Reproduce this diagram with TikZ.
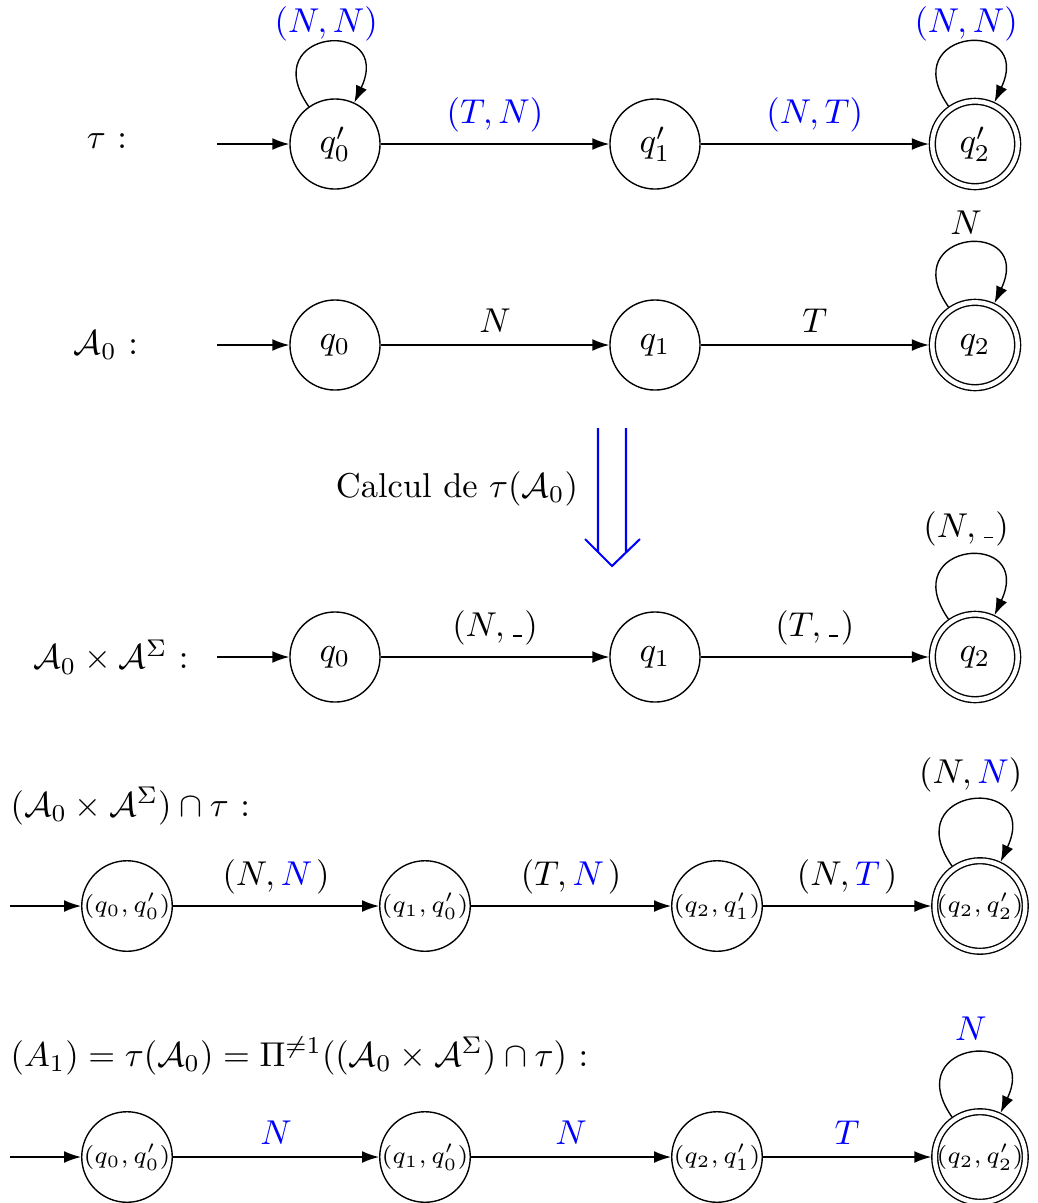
\documentclass[tikz,border=0pt]{standalone}
\usetikzlibrary{arrows.meta}
\newcommand{\blank}{\kern0.6pt\rule[-0.2pt]{2.6pt}{0.45pt}\kern0.8pt}
\begin{document}
\begin{tikzpicture}[x=0.0102cm,y=0.0102cm,
  st/.style={circle, draw, minimum size=0.918cm, inner sep=0pt},
  acc/.style={circle, draw, double, double distance=1.3pt, minimum size=0.87cm, inner sep=0pt, outer sep=1pt},
  edge/.style={-{Latex[length=4.9pt,width=3.4pt]}},
  sm/.style={font=\scriptsize},
  lp/.style={above, inner sep=#1},
  lp/.default=3.33pt]
\useasboundingbox (0,0) rectangle (1037,-1203);

% ---------- row 1 : tau
\node (l1) at (107,-141) {$\tau$ :};
\node[st] (a0) at (335,-144) {$q'_0$};
\node[st] (a1) at (655,-144) {$q'_1$};
\node[acc] (a2) at (975,-144) {$q'_2$};
\coordinate (ain) at (217,-144);
\draw[edge] (ain) -- (a0);
\draw[edge] (a0) -- node[above, text=blue] {$(T,N)$} (a1);
\draw[edge] (a1) -- node[above, text=blue] {$(N,T)$} (a2);
\draw[edge] (a0.125) .. controls +(125:95) and +(65:95) .. (a0.65) node[pos=.5, lp=0.3pt, text=blue] {$(N,N)$};
\draw[edge] (a2.125) .. controls +(125:95) and +(65:95) .. (a2.65) node[pos=.5, lp=0.3pt, text=blue] {$(N,N)$};

% ---------- row 2 : A0
\node (l2) at (106,-345) {$\mathcal{A}_0$ :};
\node[st] (b0) at (335,-345) {$q_0$};
\node[st] (b1) at (655,-345) {$q_1$};
\node[acc] (b2) at (975,-345) {$q_2$};
\coordinate (bin) at (217,-345);
\draw[edge] (bin) -- (b0);
\draw[edge] (b0) -- node[above] {$N$} (b1);
\draw[edge] (b1) -- node[above] {$T$} (b2);
\draw[edge] (b2.125) .. controls +(125:95) and +(65:95) .. (b2.65) node[pos=.5, lp=2.6pt] {$N$};

% ---------- big arrow
\node (calc) at (457,-489) {Calcul de $\tau(\mathcal{A}_0)$};
\draw[blue, line width=0.6pt] (598,-428) -- (598,-552) (626,-428) -- (626,-552)
  (585,-539) -- (612,-566) -- (640,-539);

% ---------- row 3 : A0 x A^Sigma
\node (l3) at (111,-657) {$\mathcal{A}_0\times\mathcal{A}^{\Sigma}$ :};
\node[st] (c0) at (335,-657) {$q_0$};
\node[st] (c1) at (655,-657) {$q_1$};
\node[acc] (c2) at (975,-657) {$q_2$};
\coordinate (cin) at (217,-657);
\draw[edge] (cin) -- (c0);
\draw[edge] (c0) -- node[above] {$(N,\blank)$} (c1);
\draw[edge] (c1) -- node[above] {$(T,\blank)$} (c2);
\draw[edge] (c2.125) .. controls +(125:95) and +(65:95) .. (c2.65) node[pos=.5, lp=2.6pt] {$(N,\blank)$};

% ---------- row 4 : intersection
\node[anchor=west, inner sep=0pt] (l4) at (10,-806) {$(\mathcal{A}_0\times\mathcal{A}^{\Sigma})\cap\tau$ :};
\node[st, sm] (d0) at (127,-906) {$(q_0,q'_0)$};
\node[st, sm] (d1) at (425,-906) {$(q_1,q'_0)$};
\node[st, sm] (d2) at (717,-906) {$(q_2,q'_1)$};
\node[acc, sm] (d3) at (980,-906) {$(q_2,q'_2)$};
\coordinate (din) at (10,-906);
\draw[edge] (din) -- (d0);
\draw[edge] (d0) -- node[above] {$(N,\textcolor{blue}{N}\mkern2mu)$} (d1);
\draw[edge] (d1) -- node[above] {$(T,\textcolor{blue}{N}\mkern2mu)$} (d2);
\draw[edge] (d2) -- node[above] {$(N,\textcolor{blue}{T}\mkern2mu)$} (d3);
\draw[edge] (d3.125) .. controls +(125:98) and +(65:98) .. (d3.65) node[pos=.5, lp=2.3pt] {$(N,\textcolor{blue}{N})$};

% ---------- row 5 : projection
\node[anchor=west, inner sep=0pt] (l5) at (10,-1056) {$(A_1)=\tau(\mathcal{A}_0)=\Pi^{\neq 1}((\mathcal{A}_0\times\mathcal{A}^{\Sigma})\cap\tau)$ :};
\node[st, sm] (e0) at (127,-1157) {$(q_0,q'_0)$};
\node[st, sm] (e1) at (425,-1157) {$(q_1,q'_0)$};
\node[st, sm] (e2) at (717,-1157) {$(q_2,q'_1)$};
\node[acc, sm] (e3) at (980,-1157) {$(q_2,q'_2)$};
\coordinate (ein) at (10,-1157);
\draw[edge] (ein) -- (e0);
\draw[edge] (e0) -- node[above, text=blue] {$N$} (e1);
\draw[edge] (e1) -- node[above, text=blue] {$N$} (e2);
\draw[edge] (e2) -- node[above, text=blue] {$T$} (e3);
\draw[edge] (e3.125) .. controls +(125:95) and +(65:95) .. (e3.65) node[pos=.5, lp=3.5pt, text=blue] {$N$};
\end{tikzpicture}
\end{document}
